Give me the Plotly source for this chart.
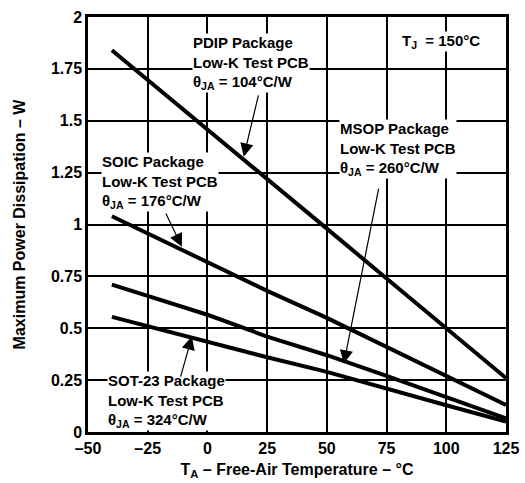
import plotly.graph_objects as go

# ambient temperature, deg C
temp = [-40, 0, 25, 50, 75, 100, 125]

# maximum power dissipation, W
pdip = [1.84, 1.46, 1.22, 0.98, 0.74, 0.50, 0.26]
soic = [1.04, 0.82, 0.68, 0.55, 0.41, 0.27, 0.13]
msop = [0.71, 0.565, 0.46, 0.37, 0.27, 0.166, 0.066]
sot23 = [0.555, 0.435, 0.36, 0.29, 0.208, 0.129, 0.05]

x_ticks = [-50, -25, 0, 25, 50, 75, 100, 125]
x_tick_text = ["–50", "–25", "0", "25", "50", "75", "100", "125"]
y_ticks = [0, 0.25, 0.5, 0.75, 1, 1.25, 1.5, 1.75, 2]
y_tick_text = ["0", "0.25", "0.5", "0.75", "1", "1.25", "1.5", "1.75", "2"]

FONT = "Liberation Sans, Arial, sans-serif"

fig = go.Figure()
for series in [pdip, soic, msop, sot23]:
    fig.add_trace(go.Scatter(x=temp, y=series, mode="lines",
                             line=dict(color="black", width=4),
                             showlegend=False, hoverinfo="skip"))

# package labels (white box hides the grid behind the text)
labels = [
    (-6.4, 1.78, "PDIP Package<br>Low-K Test PCB<br>θ<sub>JA</sub> = 104°C/W"),
    (-44.5, 1.205, "SOIC Package<br>Low-K Test PCB<br>θ<sub>JA</sub> = 176°C/W"),
    (54.9, 1.364, "MSOP Package<br>Low-K Test PCB<br>θ<sub>JA</sub> = 260°C/W"),
    (-42, 0.149, "SOT-23 Package<br>Low-K Test PCB<br>θ<sub>JA</sub> = 324°C/W"),
    (81, 1.88, "T<sub>J</sub>  = 150°C"),
]
for lx, ly, txt in labels:
    fig.add_annotation(x=lx, y=ly, text=txt, showarrow=False,
                       xanchor="left", yanchor="middle", align="left",
                       bgcolor="white", borderpad=0,
                       font=dict(family=FONT, size=15, color="black", weight="bold"))

# arrows: (head x, head y, tail x, tail y)
arrows = [
    (15.2, 1.327, 21.5, 1.63),
    (-10.7, 0.893, -17.7, 1.06),
    (57.1, 0.33, 71.8, 1.18),
    (-6.5, 0.46, -11.4, 0.26),
]
for hx, hy, tx, ty in arrows:
    fig.add_annotation(x=hx, y=hy, ax=tx, ay=ty, axref="x", ayref="y",
                       text="", showarrow=True, arrowhead=2, arrowsize=2.2,
                       arrowwidth=1.2, arrowcolor="black")

axis_common = dict(showline=True, linecolor="black", linewidth=2.5, mirror=True,
                   showgrid=True, gridcolor="black", gridwidth=1.5,
                   zeroline=False, ticks="", automargin=False,
                   tickfont=dict(family=FONT, size=16, color="black", weight="bold"))

fig.update_xaxes(range=[-50, 125], tickvals=x_ticks, ticktext=x_tick_text,
                 title=dict(text="T<sub>A</sub> – Free-Air Temperature – °C",
                            font=dict(family=FONT, size=16, color="black", weight="bold"),
                            standoff=8),
                 **axis_common)
fig.update_yaxes(range=[0, 2], tickvals=y_ticks, ticktext=y_tick_text,
                 title=dict(text="Maximum Power Dissipation – W",
                            font=dict(family=FONT, size=16, color="black", weight="bold"),
                            standoff=22),
                 **axis_common)

fig.update_layout(width=525, height=483,
                  margin=dict(l=88, r=19, t=17, b=51),
                  plot_bgcolor="white", paper_bgcolor="white")

fig.write_html("out.html", config={"displayModeBar": False},
               post_script="document.body.style.margin='0';")
